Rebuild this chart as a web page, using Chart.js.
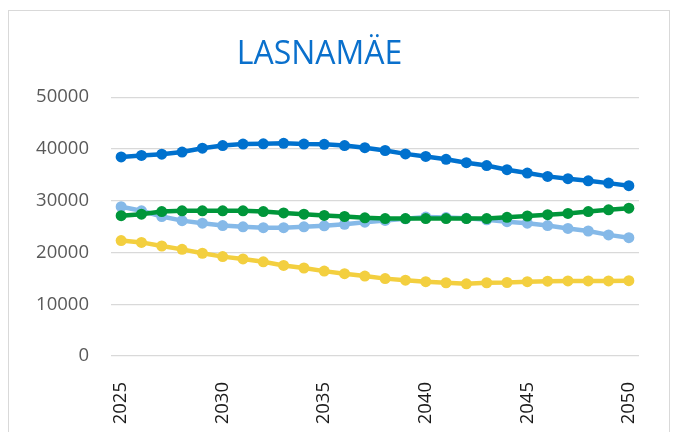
<!DOCTYPE html>
<html>
<head>
<meta charset="utf-8">
<script src="https://cdn.jsdelivr.net/npm/chart.js@4"></script>
<style>
    html, body { margin: 0; padding: 0; background: #ffffff; }
    #kast { position: absolute; left: 8px; top: 10px; width: 660px; height: 440px; border: 1px solid #d9d9d9; }
    #graafik { position: absolute; left: 0; top: 0; }
</style>
</head>
<body>
<div id="kast"></div>
<canvas id="graafik" width="676" height="432"></canvas>
<script>
var aastad = [2025, 2026, 2027, 2028, 2029, 2030, 2031, 2032, 2033, 2034, 2035, 2036, 2037,
    2038, 2039, 2040, 2041, 2042, 2043, 2044, 2045, 2046, 2047, 2048, 2049, 2050];

var tumesinine = [38450, 38750, 39000, 39400, 40150, 40650, 40950, 41000, 41100, 40950, 40900, 40650, 40250,
    39700, 39050, 38550, 38000, 37350, 36800, 36000, 35350, 34700, 34250, 33850, 33400, 32900];

var heledasinine = [28850, 28050, 26950, 26150, 25650, 25200, 24950, 24800, 24800, 24950, 25150, 25450, 25850,
    26200, 26500, 26850, 26750, 26600, 26300, 25950, 25650, 25200, 24650, 24150, 23400, 22850];

var roheline = [27100, 27400, 27900, 28050, 28050, 28050, 28050, 27900, 27650, 27400, 27150, 26950, 26700,
    26550, 26550, 26550, 26550, 26550, 26550, 26800, 27050, 27300, 27550, 27900, 28250, 28550];

var kollane = [22300, 21950, 21250, 20600, 19850, 19200, 18750, 18200, 17500, 17000, 16400, 15900, 15450,
    14950, 14650, 14350, 14150, 13950, 14150, 14200, 14350, 14450, 14500, 14500, 14500, 14550];

var xSildid = [2025, 2030, 2035, 2040, 2045, 2050];
var ySammud = [0, 10000, 20000, 30000, 40000, 50000];

function punktid(vaartused)
{
    var tulemus = [];

    for (var i = 0; i < aastad.length; i++) {
        tulemus.push({ x: aastad[i], y: vaartused[i] });
    }

    return tulemus;
}

function seeria(vaartused, varv)
{
    return {
        data: punktid(vaartused),
        borderColor: varv,
        backgroundColor: varv,
        borderWidth: 4.5,
        pointRadius: 5.5,
        pointBorderWidth: 0,
        pointHoverRadius: 5.5,
        tension: 0
    };
}

var ctx = document.getElementById('graafik');

var chart = new Chart(ctx, {
    type: 'line',
    data: {
        datasets: [
            seeria(tumesinine, '#0071ce'),
            seeria(roheline, '#00963a'),
            seeria(heledasinine, '#85b9e8'),
            seeria(kollane, '#f3cf3f')
        ]
    },
    options: {
        responsive: false,
        animation: false,
        layout: {
            padding: { left: 0, right: 37, top: 0, bottom: 0 }
        },
        plugins: {
            legend: { display: false },
            tooltip: { enabled: false },
            title: {
                display: true,
                text: 'LASNAMÄE',
                color: '#0a70cc',
                font: { family: 'Open Sans', size: 32, weight: 'normal', lineHeight: 1.2 },
                padding: { top: 35.4, bottom: 23.4 }
            }
        },
        scales: {
            x: {
                type: 'linear',
                min: 2024.5,
                max: 2050.5,
                grid: { display: false },
                border: { display: false },
                afterBuildTicks: function(axis) {
                    axis.ticks = xSildid.map(function(v) { return { value: v }; });
                },
                afterFit: function(axis) {
                    axis.height = 76;
                },
                ticks: {
                    autoSkip: false,
                    minRotation: 90,
                    maxRotation: 90,
                    padding: 18,
                    color: '#1a1a1a',
                    font: { family: 'Open Sans', size: 18.5 },
                    callback: function(v) { return String(v); }
                }
            },
            y: {
                min: 0,
                max: 50000,
                grid: { color: '#d9d9d9', lineWidth: 1.3, drawTicks: false },
                border: { display: false },
                afterBuildTicks: function(axis) {
                    axis.ticks = ySammud.map(function(v) { return { value: v }; });
                },
                afterFit: function(axis) {
                    axis.width = 111;
                },
                ticks: {
                    padding: 22,
                    color: '#595959',
                    font: { family: 'Open Sans', size: 18.5 },
                    callback: function(v) { return String(v); }
                }
            }
        }
    }
});
</script>
</body>
</html>
